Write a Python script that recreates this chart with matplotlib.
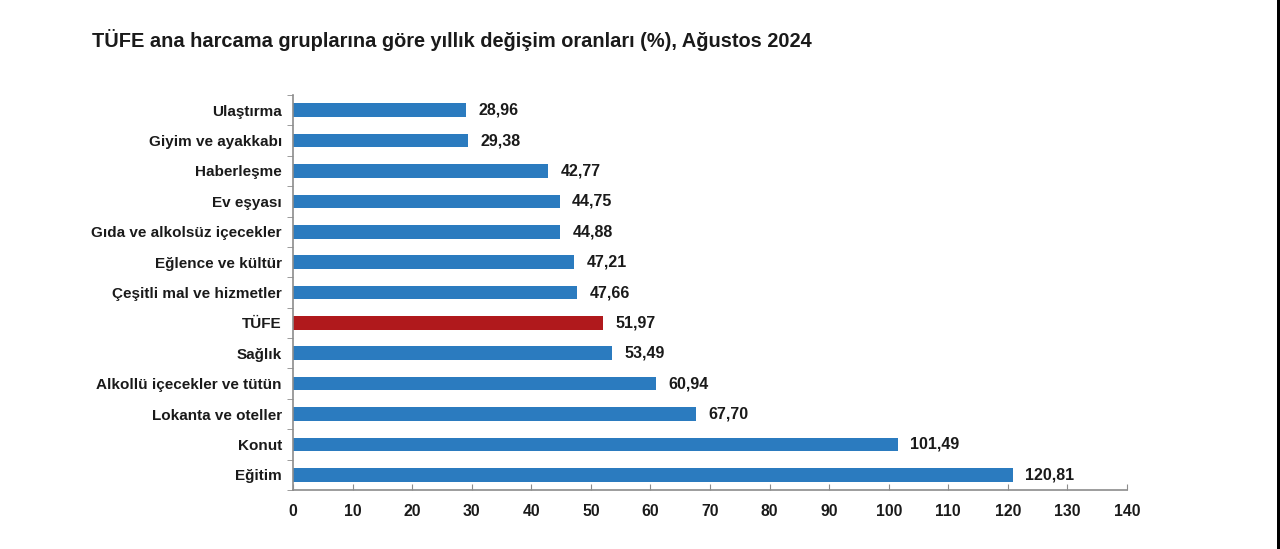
import matplotlib
matplotlib.use("Agg")
import matplotlib.pyplot as plt
from matplotlib.patches import Rectangle

plt.rcParams['font.family'] = ['Liberation Sans', 'DejaVu Sans']

categories = ["Ulaştırma", "Giyim ve ayakkabı", "Haberleşme", "Ev eşyası",
              "Gıda ve alkolsüz içecekler", "Eğlence ve kültür",
              "Çeşitli mal ve hizmetler", "TÜFE", "Sağlık",
              "Alkollü içecekler ve tütün", "Lokanta ve oteller", "Konut", "Eğitim"]
values = [28.96, 29.38, 42.77, 44.75, 44.88, 47.21, 47.66, 51.97, 53.49,
          60.94, 67.70, 101.49, 120.81]
highlight = "TÜFE"
xticks = list(range(0, 141, 10))
title = "TÜFE ana harcama gruplarına göre yıllık değişim oranları (%), Ağustos 2024"

blue = "#2b7bbf"
red = "#b0191c"
axis_gray = "#8c8c8c"
text_color = "#1a1a1a"

fig = plt.figure(figsize=(12.8, 5.49), dpi=100)
fig.patch.set_facecolor("white")
ax = fig.add_axes([293/1280, 1 - 490/549, (1127-293)/1280, (490-95)/549])

ypos = list(range(len(categories)))
colors = [red if c == highlight else blue for c in categories]
ax.barh(ypos, values, height=0.45, color=colors)
ax.set_ylim(len(categories) - 0.5, -0.5)
ax.set_xlim(0, 140)

for y, v in zip(ypos, values):
    ax.annotate(f"{v:.2f}".replace(".", ","), xy=(v, y), xytext=(9, 0),
                textcoords="offset points", va="center", ha="left",
                fontsize=11.5, color=text_color, fontweight="bold")

ax.set_yticks(ypos)
ax.set_yticklabels(categories, fontsize=11, color=text_color, fontweight="bold")
ax.tick_params(axis="y", length=0, pad=8)
ax.set_yticks([y + 0.5 for y in [-1] + ypos], minor=True)
ax.tick_params(axis="y", which="minor", length=4, color=axis_gray, direction="out")

ax.set_xticks(xticks)
ax.set_xticklabels([str(t) for t in xticks], fontsize=11.3, color=text_color, fontweight="bold")
ax.tick_params(axis="x", length=4, direction="in", color=axis_gray, pad=10)

for s in ["top", "right"]:
    ax.spines[s].set_visible(False)
for s in ["left", "bottom"]:
    ax.spines[s].set_color(axis_gray)
    ax.spines[s].set_linewidth(1.2)

fig.text(92/1280, 1 - 40/549, title, fontsize=14.45, fontweight="bold",
         color=text_color, ha="left", va="center")

# right dark edge strip
fig.patches.append(Rectangle((1277/1280, 0), 3/1280, 1, transform=fig.transFigure,
                             facecolor="black", edgecolor="none", zorder=10))

fig.savefig("out.png", dpi=100, facecolor="white")
